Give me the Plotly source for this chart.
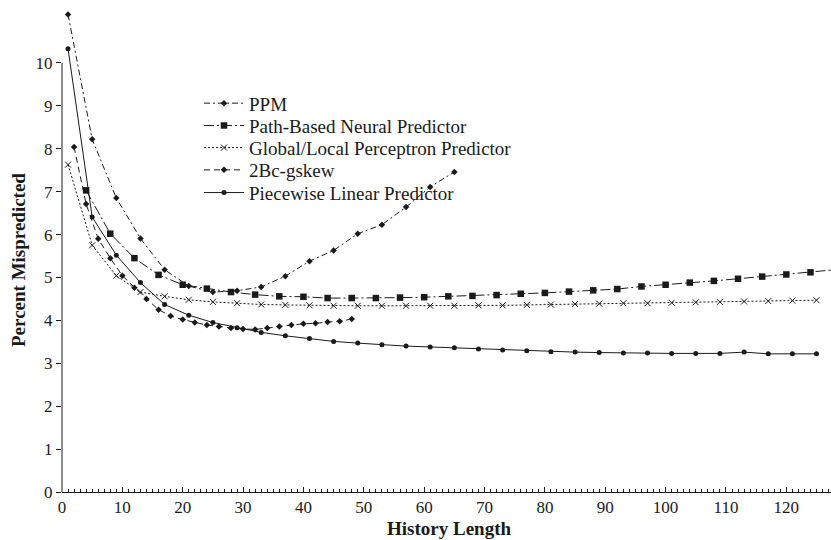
import plotly.graph_objects as go

# ---------------- data ----------------
ppm_x = list(range(1, 66, 4))
ppm_y = [11.13, 8.22, 6.85, 5.91, 5.18, 4.80, 4.66, 4.69, 4.78, 5.03, 5.38, 5.63,
         6.02, 6.23, 6.64, 7.11, 7.46]

path_x = list(range(4, 129, 4))
path_y = [7.03, 6.02, 5.45, 5.06, 4.83, 4.74, 4.66, 4.60, 4.56, 4.55, 4.52, 4.52,
          4.52, 4.53, 4.54, 4.56, 4.57, 4.59, 4.62, 4.64, 4.67, 4.70, 4.73, 4.79,
          4.83, 4.88, 4.92, 4.97, 5.02, 5.07, 5.12, 5.18]

glob_x = list(range(1, 126, 4))
glob_y = [7.63, 5.75, 5.04, 4.66, 4.56, 4.48, 4.43, 4.40, 4.37, 4.36, 4.35, 4.34,
          4.34, 4.34, 4.34, 4.34, 4.34, 4.35, 4.35, 4.36, 4.37, 4.38, 4.39, 4.40,
          4.40, 4.41, 4.42, 4.43, 4.44, 4.45, 4.46, 4.47]

gskew_x = list(range(2, 49, 2))
gskew_y = [8.04, 6.71, 5.90, 5.45, 5.04, 4.76, 4.50, 4.25, 4.10, 4.02, 3.95, 3.89,
           3.86, 3.82, 3.80, 3.79, 3.82, 3.86, 3.89, 3.92, 3.93, 3.96, 3.98, 4.03]

pw_x = list(range(1, 126, 4))
pw_y = [10.33, 6.41, 5.52, 4.88, 4.37, 4.12, 3.95, 3.83, 3.72, 3.64, 3.58, 3.51,
        3.47, 3.43, 3.40, 3.38, 3.36, 3.33, 3.31, 3.29, 3.27, 3.26, 3.25, 3.24,
        3.24, 3.23, 3.23, 3.23, 3.26, 3.22, 3.22, 3.22]

x_ticks = list(range(0, 121, 10))
y_ticks = list(range(0, 11))

names = ["PPM", "Path-Based Neural Predictor", "Global/Local Perceptron Predictor",
         "2Bc-gskew", "Piecewise Linear Predictor"]

# ---------------- styling ----------------
INK = "#1a1a1a"
FONT = "Liberation Serif"

fig = go.Figure()

series = [
    (ppm_x, ppm_y, "6px,3px,2px,3px", dict(symbol="diamond", size=5)),
    (path_x, path_y, "10px,3px,2px,3px", dict(symbol="square", size=6.5)),
    (glob_x, glob_y, "2px,2px", dict(symbol="x-thin-open", size=6, line=dict(width=1, color=INK))),
    (gskew_x, gskew_y, "6px,4px", dict(symbol="diamond", size=5)),
    (pw_x, pw_y, "solid", dict(symbol="circle", size=5)),
]

legend_keys = ["legend", "legend2", "legend3", "legend4", "legend5"]
legend_py = [103.3, 125.7, 147.7, 170.0, 192.7]

for (xs, ys, dash, mk), nm, lk in zip(series, names, legend_keys):
    mk = dict(mk)
    mk.setdefault("color", INK)
    fig.add_trace(go.Scatter(
        x=xs, y=ys, name=nm, mode="lines+markers",
        line=dict(color=INK, width=1, dash=dash),
        marker=mk, legend=lk, cliponaxis=False,
    ))

W, H = 831, 540
ML, MR, MT, MB = 62, 0, 8, 48
PW, PH = W - ML - MR, H - MT - MB

layout_legends = {}
for lk, py in zip(legend_keys, legend_py):
    layout_legends[lk] = dict(
        x=(199 - ML) / PW, xanchor="left",
        y=(H - MB - py) / PH, yanchor="middle",
        bgcolor="rgba(0,0,0,0)", borderwidth=0,
        font=dict(family=FONT, size=19, color=INK),
        itemwidth=40,
    )

fig.update_layout(
    width=W, height=H,
    margin=dict(l=ML, r=MR, t=MT, b=MB),
    paper_bgcolor="white", plot_bgcolor="white",
    showlegend=True,
    font=dict(family=FONT, size=17, color=INK),
    **layout_legends,
)

fig.update_xaxes(
    range=[0, 127.4], tickvals=x_ticks, ticktext=[str(v) for v in x_ticks],
    showline=True, linecolor=INK, linewidth=1,
    ticks="inside", ticklen=5, tickcolor=INK, tickwidth=1,
    minor=dict(dtick=1, ticks="inside", ticklen=3, tickcolor=INK, tickwidth=1),
    showgrid=False, zeroline=False,
    tickfont=dict(family=FONT, size=17, color=INK),
)
fig.update_yaxes(
    range=[0, 11.28], tickvals=y_ticks, ticktext=[str(v) for v in y_ticks],
    showline=False,
    ticks="outside", ticklen=5, tickcolor=INK, tickwidth=1,
    showgrid=False, zeroline=False,
    tickfont=dict(family=FONT, size=17, color=INK),
)

# y axis line only spans 0..10 as in the original
fig.add_shape(type="line", xref="paper", yref="y", x0=0, x1=0, y0=0, y1=10,
              line=dict(color=INK, width=1), layer="above")

fig.add_annotation(text="<b>History Length</b>", xref="paper", yref="paper",
                   x=(448.7 - ML) / PW, y=(H - MB - 528) / PH,
                   xanchor="center", yanchor="middle", showarrow=False,
                   font=dict(family=FONT, size=19, color=INK))
fig.add_annotation(text="<b>Percent Mispredicted</b>", xref="paper", yref="paper",
                   x=(18 - ML) / PW, y=(H - MB - 260) / PH, textangle=-90,
                   xanchor="center", yanchor="middle", showarrow=False,
                   font=dict(family=FONT, size=19, color=INK))

fig.write_html("out.html")
